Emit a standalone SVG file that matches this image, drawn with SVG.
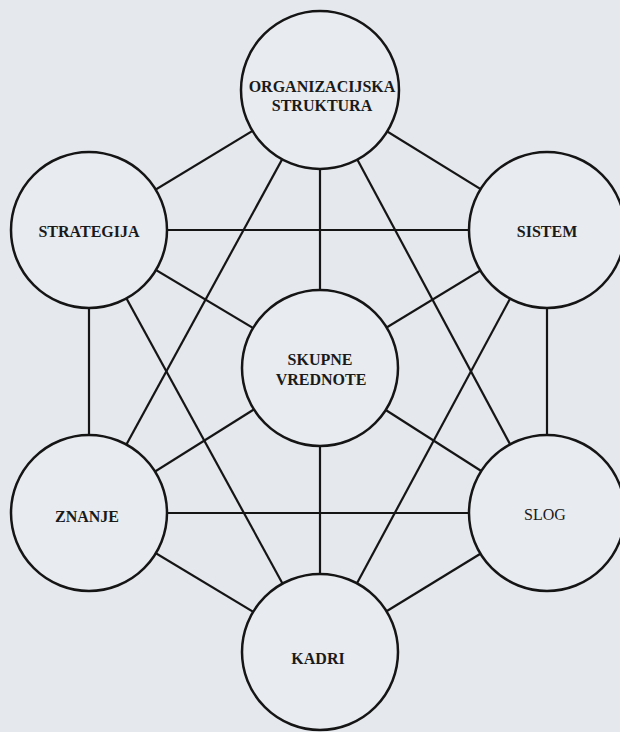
<svg xmlns="http://www.w3.org/2000/svg" width="620" height="732" viewBox="0 0 620 732">
  <style>
    .bg { fill: #e5e8ed; }
    .edge { stroke: #151515; stroke-width: 2.2; fill: none; }
    .node { fill: #e8ebf0; stroke: #151515; stroke-width: 2.5; }
    .lbl { font-family: "Liberation Serif", "Times New Roman", serif; font-size: 16px; font-weight: bold; fill: #1a1a1a; text-anchor: middle; }
    .thin { font-weight: normal; }
  </style>
  <rect class="bg" x="0" y="0" width="620" height="732"/>
  <g id="connectors">
    <line class="edge" x1="320" y1="90" x2="89" y2="230"/>
    <line class="edge" x1="320" y1="90" x2="547" y2="230"/>
    <line class="edge" x1="320" y1="90" x2="320" y2="368"/>
    <line class="edge" x1="320" y1="90" x2="89" y2="513"/>
    <line class="edge" x1="320" y1="90" x2="547" y2="513"/>
    <line class="edge" x1="89" y1="230" x2="547" y2="230"/>
    <line class="edge" x1="89" y1="230" x2="320" y2="368"/>
    <line class="edge" x1="89" y1="230" x2="89" y2="513"/>
    <line class="edge" x1="89" y1="230" x2="320" y2="652"/>
    <line class="edge" x1="547" y1="230" x2="320" y2="368"/>
    <line class="edge" x1="547" y1="230" x2="547" y2="513"/>
    <line class="edge" x1="547" y1="230" x2="320" y2="652"/>
    <line class="edge" x1="320" y1="368" x2="89" y2="513"/>
    <line class="edge" x1="320" y1="368" x2="547" y2="513"/>
    <line class="edge" x1="320" y1="368" x2="320" y2="652"/>
    <line class="edge" x1="89" y1="513" x2="547" y2="513"/>
    <line class="edge" x1="89" y1="513" x2="320" y2="652"/>
    <line class="edge" x1="547" y1="513" x2="320" y2="652"/>
  </g>
  <g id="organizacijska">
    <circle class="node" cx="320" cy="90" r="79"/>
    <text class="lbl" x="322" y="92" font-size="15.5">ORGANIZACIJSKA</text>
    <text class="lbl" x="322" y="111" font-size="15.5">STRUKTURA</text>
  </g>
  <g id="strategija">
    <circle class="node" cx="89" cy="230" r="78"/>
    <text class="lbl" x="89" y="237">STRATEGIJA</text>
  </g>
  <g id="sistem">
    <circle class="node" cx="547" cy="230" r="78"/>
    <text class="lbl" x="547" y="237">SISTEM</text>
  </g>
  <g id="skupne">
    <circle class="node" cx="320" cy="368" r="78"/>
    <text class="lbl" x="320" y="365">SKUPNE</text>
    <text class="lbl" x="321" y="385">VREDNOTE</text>
  </g>
  <g id="znanje">
    <circle class="node" cx="89" cy="513" r="78"/>
    <text class="lbl" x="87" y="522">ZNANJE</text>
  </g>
  <g id="slog">
    <circle class="node" cx="547" cy="513" r="78"/>
    <text class="lbl thin" x="545" y="520">SLOG</text>
  </g>
  <g id="kadri">
    <circle class="node" cx="320" cy="652" r="78"/>
    <text class="lbl" x="318" y="664">KADRI</text>
  </g>
</svg>
